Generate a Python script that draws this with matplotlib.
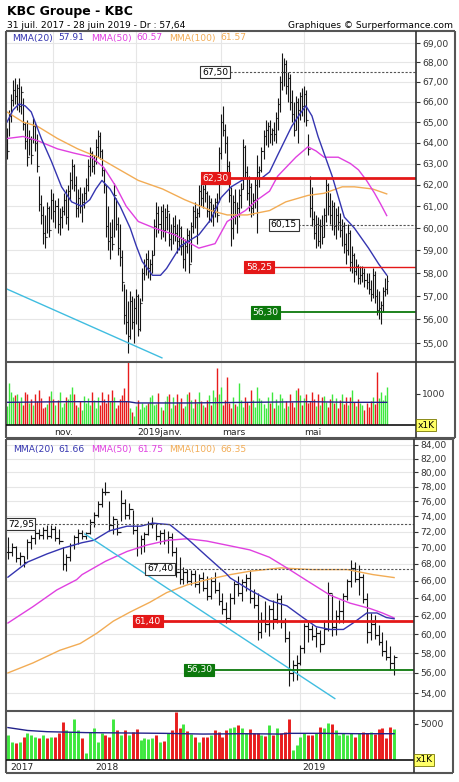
import numpy as np
import pandas as pd
import matplotlib
matplotlib.use('Agg')
import matplotlib.pyplot as plt
from matplotlib.lines import Line2D
from matplotlib.ticker import NullLocator

# ---------------- daily data (1 oct. 2018 -> 28 juin 2019) ----------------
d_high = [64.7, 65.6, 66.4, 67.1, 67.2, 66.9, 67.2, 66.8, 66.2, 65.0,
          65.1, 64.6, 64.3, 65.2, 65.0, 64.4, 62.4, 61.5, 61.0, 60.6,
          61.2, 61.0, 61.8, 61.6, 61.3, 61.4, 60.9, 61.0, 61.6, 61.8,
          62.0, 62.6, 63.2, 63.0, 62.4, 61.8, 61.9, 61.6, 61.9, 62.3,
          63.2, 63.8, 63.6, 63.4, 64.2, 64.6, 64.5, 63.7, 62.8, 62.0,
          61.0, 60.3, 60.4, 62.1, 61.4, 60.5, 60.2, 59.0, 57.5, 57.3,
          56.8, 57.2, 57.0, 56.9, 57.3, 57.1, 56.9, 58.2, 58.6, 58.9,
          59.0, 58.6, 59.0, 60.4, 61.2, 61.0, 61.0, 61.1, 60.9, 61.1,
          60.7, 60.2, 60.5, 60.6, 60.2, 60.4, 60.1, 59.6, 59.5, 60.0,
          59.9, 60.3, 61.0, 61.2, 60.9, 62.0, 62.1, 62.0, 62.3, 61.7,
          61.5, 61.4, 61.1, 61.4, 61.6, 63.8, 65.4, 65.8, 64.9, 64.3,
          63.1, 61.9, 61.5, 61.8, 61.2, 61.8, 62.1, 64.2, 63.9, 62.9,
          62.4, 62.1, 61.6, 62.3, 63.4, 62.9, 63.8, 64.6, 65.1, 65.0,
          65.1, 64.7, 65.0, 65.5, 66.2, 67.3, 68.5, 68.2, 68.1, 67.5,
          67.4, 66.6, 66.0, 66.3, 66.2, 66.5, 66.7, 66.8, 66.6, 64.4,
          62.4, 61.9, 60.8, 60.6, 60.5, 60.4, 60.6, 60.9, 62.3, 62.1,
          61.6, 61.3, 61.2, 60.9, 61.0, 60.7, 60.4, 60.3, 59.8, 60.2,
          59.9, 59.2, 58.9, 58.6, 58.4, 58.3, 58.3, 58.2, 58.0, 58.0,
          57.7, 58.2, 58.1, 57.3, 57.2, 56.8, 57.4, 57.8, 57.9]
d_low = [63.2, 64.3, 65.0, 65.8, 65.9, 65.6, 65.5, 65.4, 64.6, 63.7,
         62.9, 63.4, 63.0, 64.0, 63.6, 62.6, 60.8, 60.2, 59.3, 59.1,
         59.8, 59.6, 60.4, 60.3, 60.0, 59.8, 59.7, 60.0, 60.6, 60.2,
         59.9, 61.3, 61.8, 61.7, 60.5, 60.5, 60.7, 60.3, 60.9, 61.3,
         61.7, 62.4, 62.6, 62.5, 63.0, 63.3, 63.2, 62.4, 61.6, 59.6,
         59.0, 58.6, 59.0, 59.6, 59.9, 58.8, 58.3, 57.2, 55.8, 55.4,
         54.6, 55.2, 55.6, 55.0, 55.8, 55.3, 55.5, 56.8, 57.7, 57.9,
         57.8, 57.7, 58.0, 58.8, 59.6, 59.8, 59.5, 59.6, 59.4, 59.9,
         59.2, 59.0, 59.3, 59.4, 58.9, 59.0, 58.8, 58.2, 58.1, 58.9,
         58.0, 58.5, 59.8, 60.0, 59.3, 60.5, 61.0, 60.9, 61.2, 60.5,
         60.3, 60.3, 60.1, 60.5, 60.3, 61.2, 63.2, 64.3, 63.5, 62.6,
         61.2, 59.2, 59.5, 60.2, 59.8, 60.5, 60.9, 61.8, 62.3, 61.3,
         60.8, 60.5, 60.6, 60.9, 59.8, 61.9, 62.6, 63.2, 63.9, 63.8,
         64.0, 63.9, 64.1, 64.0, 64.6, 65.5, 66.6, 66.8, 66.4, 66.0,
         65.6, 65.0, 64.3, 64.6, 64.0, 65.1, 65.3, 65.0, 64.8, 63.4,
         60.5, 60.1, 59.5, 59.1, 59.2, 59.1, 59.3, 59.6, 60.3, 60.6,
         60.2, 59.9, 59.7, 59.5, 59.9, 59.6, 59.2, 58.9, 58.4, 58.8,
         58.1, 58.0, 57.6, 57.9, 57.5, 57.5, 57.6, 57.4, 57.3, 57.1,
         56.8, 56.9, 56.7, 56.2, 56.0, 55.8, 56.3, 57.0, 57.1]
d_close = [63.6, 65.3, 66.1, 66.6, 66.3, 66.7, 65.8, 66.5, 64.9, 64.1,
           63.3, 64.2, 63.4, 64.8, 64.0, 62.9, 61.1, 60.6, 59.8, 59.6,
           60.9, 59.9, 61.3, 60.8, 61.0, 60.2, 60.5, 60.8, 61.3, 60.5,
           61.7, 62.2, 62.9, 62.0, 60.9, 61.4, 61.0, 61.2, 61.6, 62.0,
           62.9, 63.5, 62.9, 63.1, 63.8, 64.3, 63.6, 62.7, 62.0, 60.1,
           59.4, 59.6, 59.3, 61.5, 60.2, 59.1, 58.7, 57.6, 56.2, 55.9,
           55.3, 56.8, 55.9, 56.5, 57.0, 55.6, 56.7, 58.0, 58.3, 58.6,
           58.2, 58.4, 58.8, 60.1, 60.7, 60.2, 60.8, 59.9, 60.5, 60.8,
           59.5, 59.8, 60.1, 59.8, 59.4, 60.0, 59.2, 58.6, 59.2, 59.7,
           58.4, 60.1, 60.8, 60.5, 60.7, 61.7, 61.4, 61.8, 61.6, 60.8,
           61.2, 60.6, 60.9, 61.2, 60.6, 63.5, 65.0, 64.6, 64.0, 62.9,
           61.5, 60.0, 61.2, 60.6, 60.9, 61.5, 61.8, 63.8, 62.6, 61.6,
           61.9, 60.9, 61.3, 62.0, 62.6, 62.7, 63.6, 64.3, 64.6, 64.8,
           64.4, 64.6, 64.4, 65.2, 65.9, 67.0, 67.5, 67.9, 66.8, 67.2,
           66.0, 65.4, 64.6, 66.0, 65.6, 66.3, 65.8, 66.4, 65.1, 63.7,
           60.9, 60.4, 59.8, 60.2, 59.4, 60.1, 59.6, 60.6, 62.0, 61.0,
           60.6, 61.0, 60.1, 60.6, 60.3, 59.9, 60.1, 59.3, 59.0, 59.8,
           58.5, 58.8, 58.1, 58.3, 57.8, 57.9, 58.0, 57.7, 57.6, 57.3,
           57.1, 57.9, 57.0, 56.4, 56.5, 56.6, 57.2, 57.3, 57.64]
d_volume = [600, 1320, 1050, 880, 950, 1000, 720, 900, 650, 1040,
            980, 700, 820, 640, 980, 760, 1100, 870, 540, 560,
            680, 930, 1080, 830, 620, 780, 1060, 560, 700, 900,
            820, 1000, 1200, 980, 640, 560, 760, 480, 920, 700,
            860, 620, 1060, 780, 540, 900, 640, 1060, 820, 700,
            980, 760, 1100, 880, 540, 640, 820, 960, 1160, 760,
            2000, 540, 420, 300, 600, 780, 520, 700, 560, 640,
            700, 880, 960, 620, 680, 1020, 580, 480, 760, 920,
            1000, 540, 880, 620, 1000, 720, 860, 540, 600, 980,
            1060, 780, 540, 820, 700, 1060, 760, 640, 580, 800,
            940, 620, 1100, 900, 1800, 1000, 1200, 640, 800, 1530,
            700, 540, 900, 680, 600, 1320, 800, 560, 900, 720,
            640, 1100, 800, 560, 1220, 860, 780, 660, 540, 900,
            700, 1060, 540, 820, 640, 980, 860, 540, 760, 600,
            1000, 720, 580, 1110, 1180, 960, 640, 860, 1000, 700,
            760, 1040, 820, 600, 980, 640, 880, 920, 740, 560,
            820, 980, 700, 860, 540, 780, 1000, 680, 880, 620,
            900, 1110, 720, 600, 820, 700, 640, 480, 700, 560,
            760, 900, 680, 1690, 860, 1040, 780, 960, 1220]
d_holidays = ['2018-12-25', '2018-12-26', '2019-01-01', '2019-04-19', '2019-04-22', '2019-05-01']

# moving averages (bar index, value)
d_ma20_idx = [0, 3, 6, 9, 12, 17, 22, 27, 32, 37, 41, 44, 47, 51, 56, 61, 64, 67, 72, 76, 79, 86,
              95, 101, 106, 111, 118, 126, 130, 134, 141, 145, 148, 151, 154, 161, 167, 172, 179, 184, 188]
d_ma20 = [65.0, 65.6, 65.9, 65.8, 65.5, 64.2, 63.1, 61.9, 61.2, 61.0, 61.3, 61.8, 62.2, 61.8, 61.0,
          60.0, 59.2, 58.5, 57.9, 57.9, 58.2, 59.2, 59.7, 60.4, 61.4, 61.9, 62.3, 62.3, 62.6, 63.4,
          64.8, 65.4, 65.8, 65.3, 64.3, 62.4, 60.5, 60.0, 59.1, 58.4, 57.91]
d_ma50_idx = [0, 8, 15, 25, 33, 42, 48, 54, 59, 65, 73, 83, 95, 103, 109, 118, 124, 130, 134,
              143, 149, 153, 157, 164, 170, 174, 178, 182, 185, 188]
d_ma50 = [64.2, 64.3, 64.1, 63.7, 63.5, 63.3, 62.8, 61.9, 61.0, 60.3, 60.0, 59.7, 59.1, 59.3, 60.3,
          60.8, 61.3, 61.7, 62.4, 63.3, 63.8, 63.6, 63.3, 63.3, 63.0, 62.7, 62.2, 61.6, 61.1, 60.57]
d_ma100_idx = [0, 8, 15, 25, 35, 45, 54, 65, 77, 88, 101, 109, 119, 130, 138, 149, 157, 166, 172,
               181, 188]
d_ma100 = [65.5, 65.0, 64.8, 64.2, 63.7, 63.3, 62.8, 62.2, 61.8, 61.3, 60.8, 60.6, 60.6, 60.8, 61.2,
           61.5, 61.6, 61.9, 61.9, 61.8, 61.57]
d_volavg_idx = [0, 30, 60, 64, 90, 120, 150, 170, 188]
d_volavg = [720, 740, 740, 700, 700, 720, 740, 720, 720]

d_levels = [67.50, 62.30, 60.15, 58.25, 56.30]
d_trend_idx = [0, 76.7]
d_trend = [57.3, 54.4]
d_month_labels = ['nov.', '2019janv.', 'mars', 'mai']

# ---------------- weekly data (31 juil. 2017 -> 24 juin 2019) ----------------
w_high = [71.3, 70.6, 70.2, 69.4, 69.0, 71.0, 71.6, 72.4, 72.3, 72.6,
          72.9, 72.8, 72.7, 72.4, 70.0, 69.2, 70.6, 71.6, 72.4, 72.2,
          72.0, 73.6, 74.5, 76.0, 77.8, 78.6, 76.0, 74.0, 73.5, 77.6,
          76.3, 75.8, 74.8, 72.8, 71.6, 72.0, 73.4, 73.9, 73.0, 72.2,
          72.4, 72.1, 71.8, 70.0, 68.8, 67.6, 67.4, 67.2, 67.3, 66.8,
          67.0, 66.5, 66.4, 67.0, 65.8, 64.6, 63.5, 64.5, 66.0, 66.5,
          66.2, 66.8, 67.2, 65.0, 64.5, 62.4, 63.6, 63.2, 63.8, 64.6,
          64.3, 61.8, 60.3, 57.3, 57.8, 58.8, 61.2, 61.3, 61.0, 60.8,
          60.4, 61.5, 65.8, 64.4, 62.6, 63.8, 64.5, 66.2, 68.5, 68.2,
          67.8, 66.8, 64.5, 62.3, 62.1, 61.0, 60.2, 59.4, 58.7, 57.8]
w_low = [68.6, 68.9, 68.2, 67.8, 67.6, 68.6, 69.8, 70.4, 71.0, 71.0,
         71.1, 71.2, 70.8, 70.4, 67.3, 67.1, 68.3, 69.8, 70.4, 71.0,
         71.1, 71.7, 72.6, 73.9, 75.2, 76.9, 72.1, 71.7, 71.6, 73.4,
         73.6, 73.6, 71.7, 69.0, 69.2, 69.5, 71.6, 72.5, 70.9, 70.4,
         70.4, 69.3, 69.0, 66.4, 65.6, 65.6, 65.7, 65.5, 65.2, 64.6,
         64.8, 63.8, 63.9, 64.5, 63.2, 62.2, 61.2, 61.5, 63.3, 64.2,
         63.6, 64.8, 63.4, 62.8, 59.4, 59.6, 60.2, 59.8, 60.6, 61.2,
         60.7, 59.2, 54.7, 55.2, 55.3, 56.8, 58.0, 59.2, 59.4, 58.6,
         58.1, 59.0, 60.3, 59.8, 59.9, 61.2, 61.2, 63.7, 65.2, 65.8,
         64.3, 63.4, 59.1, 59.4, 59.5, 58.9, 57.7, 57.3, 56.3, 55.8]
w_close = [69.5, 70.1, 68.7, 69.0, 68.2, 70.7, 71.2, 71.8, 71.6, 72.2,
           71.5, 72.4, 71.2, 70.8, 68.0, 68.8, 70.3, 71.3, 71.8, 71.5,
           71.8, 73.3, 74.2, 75.6, 77.3, 77.2, 72.8, 73.6, 72.0, 75.8,
           74.2, 74.9, 72.2, 70.0, 71.0, 71.7, 73.0, 73.1, 71.5, 71.8,
           70.9, 71.3, 69.4, 67.0, 66.2, 67.0, 66.0, 66.8, 65.6, 66.3,
           65.1, 64.2, 66.0, 64.9, 63.6, 62.7, 61.8, 64.0, 65.6, 64.6,
           65.8, 66.3, 64.0, 63.2, 60.2, 61.5, 61.1, 62.7, 61.6, 63.9,
           61.3, 59.6, 56.0, 56.8, 57.0, 58.5, 60.9, 60.5, 59.8, 60.1,
           59.0, 60.6, 64.6, 60.8, 62.0, 62.5, 64.2, 65.9, 67.5, 66.2,
           66.4, 63.9, 60.2, 61.1, 59.9, 59.2, 58.2, 57.6, 57.0, 57.64]
w_volume = [3470, 2540, 2310, 2540, 3240, 3700, 3470, 3240, 3010, 3470,
            3010, 3240, 3240, 3700, 5320, 4160, 3930, 5640, 4160, 3010,
            925, 3930, 4390, 2540, 3700, 3470, 3240, 5640, 4160, 3470,
            4160, 3470, 3930, 4260, 2780, 3010, 2870, 3010, 3470, 2540,
            2680, 3700, 4160, 6710, 4390, 5000, 4070, 3610, 3240, 2540,
            3240, 3150, 3470, 4160, 3930, 3240, 4160, 4500, 4630, 4860,
            4390, 3700, 4260, 3700, 3790, 3470, 3330, 4860, 3470, 4390,
            3700, 3930, 5640, 1390, 2080, 3240, 3700, 3470, 3470, 3700,
            4630, 4390, 5180, 5000, 4160, 3470, 3700, 3470, 3700, 3240,
            3700, 3930, 3700, 3930, 3610, 4260, 4390, 3010, 4630, 4260]

w_ma20_idx = [0, 5, 10, 14, 19, 22, 26, 30.5, 34, 37, 41.5, 46, 51, 56, 57, 62, 67, 71.5, 75.6,
              79, 82.6, 86, 88.5, 92, 94.6, 97, 99]
w_ma20 = [66.4, 68.2, 69.2, 69.9, 70.6, 70.9, 72.1, 72.7, 72.7, 73.1, 72.9, 71.1, 68.9, 66.8, 66.3,
          64.9, 63.7, 63.1, 61.8, 60.8, 60.5, 60.5, 61.2, 62.3, 62.3, 61.8, 61.66]
w_ma50_idx = [0, 6.4, 12.5, 17.6, 19, 25, 30.5, 35.6, 41, 46, 51, 57, 62, 67, 71.5, 76.6, 82.6,
              87.7, 92.8, 96, 99]
w_ma50 = [61.2, 63.0, 64.9, 66.1, 66.7, 68.3, 69.5, 70.3, 70.9, 71.1, 70.8, 70.2, 69.7, 68.8, 67.5,
          66.0, 64.3, 63.4, 62.8, 62.3, 61.75]
w_ma100_idx = [0, 6.4, 13.3, 18.5, 22.8, 27, 31.3, 36.4, 40.7, 46, 51, 57, 62, 70, 78, 87, 93.6, 99]
w_ma100 = [56.0, 57.0, 58.3, 59.0, 60.1, 61.4, 62.4, 63.5, 64.6, 65.5, 66.1, 66.7, 67.1, 67.5, 67.3,
           67.3, 66.7, 66.35]
w_volavg_idx = [0, 5, 10, 20, 30, 40, 50, 60, 70, 72, 80, 90, 99]
w_volavg = [4500, 4100, 3930, 3800, 3750, 3700, 3600, 3650, 3600, 3700, 3700, 3650, 3650]

w_levels = [72.95, 67.40, 61.40, 56.30]
w_trend_idx = [19.7, 83.8]
w_trend = [71.7, 53.5]

# ---------------- styling ----------------
W, H = 460, 782
C20, C50, C100 = '#3535b0', '#e040e0', '#f2ac55'
CYAN = '#40bde0'
RED, GREEN = '#e41818', '#0c780c'
VGREEN, VRED = '#3ee83e', '#e81c1c'
FRAME = '#555555'
GRID = '#e6e6e6'
FS = 6.6

fig = plt.figure(figsize=(W / 100, H / 100), dpi=100)
fig.patch.set_facecolor('white')


def fy(y):
    return 1 - y / H


def px_axes(x0, y0, x1, y1):
    ax = fig.add_axes([x0 / W, 1 - y1 / H, (x1 - x0) / W, (y1 - y0) / H])
    for s in ax.spines.values():
        s.set_visible(False)
    return ax


def fline(x0, y0, x1, y1, lw=1.5, color=FRAME):
    fig.add_artist(Line2D([x0 / W, x1 / W], [fy(y0), fy(y1)], transform=fig.transFigure,
                          color=color, lw=lw, solid_capstyle='butt'))


def comma(v):
    return f'{v:.2f}'.replace('.', ',')


def draw_ohlc(ax, high, low, close, tick, lw):
    close = np.asarray(close)
    x = np.arange(len(close))
    opn = np.r_[close[0], close[:-1]]
    ax.vlines(x, low, high, color='#151515', lw=lw)
    ax.hlines(opn, x - tick, x, color='#151515', lw=lw)
    ax.hlines(close, x, x + tick, color='#151515', lw=lw)


def draw_volume(ax, volume, close, lw):
    close = np.asarray(close)
    up = close >= np.r_[close[0], close[:-1]]
    ax.vlines(np.arange(len(volume)), 0, volume, lw=lw,
              colors=np.where(up, VGREEN, VRED))


def price_axis(ax, xlim, ylim, ticks, grid_x):
    ax.set_yscale('log')
    ax.set_xlim(*xlim)
    ax.set_ylim(*ylim)
    ax.yaxis.tick_right()
    ax.set_yticks(ticks)
    ax.set_yticklabels([comma(t) for t in ticks])
    ax.yaxis.set_minor_locator(NullLocator())
    ax.tick_params(axis='y', direction='out', length=3, width=0.8, pad=1.5,
                   labelsize=FS, colors='#333333')
    ax.set_xticks(grid_x)
    ax.tick_params(axis='x', length=0, labelbottom=False)
    ax.grid(True, color=GRID, lw=0.8)
    ax.set_axisbelow(True)


def level_box(ax, x, y, text, fc, tc, ec):
    ax.text(x, y, text, fontsize=FS, color=tc, ha='center', va='center', zorder=6,
            bbox=dict(boxstyle='square,pad=0.18', fc=fc, ec=ec, lw=0.8))


def volume_axis(ax, xlim, vmax, tick, grid_x):
    ax.set_xlim(*xlim)
    ax.set_ylim(0, vmax)
    ax.yaxis.tick_right()
    ax.set_yticks([tick])
    ax.set_yticklabels([str(tick)])
    ax.tick_params(axis='y', direction='out', length=3, width=0.8, pad=1.5,
                   labelsize=FS, colors='#333333')
    ax.set_xticks(grid_x)
    ax.tick_params(axis='x', length=0, labelbottom=False)
    ax.grid(True, axis='x', color=GRID, lw=0.8)
    ax.set_axisbelow(True)


# ---------------- titles ----------------
fig.text(7 / W, fy(12), 'KBC Groupe - KBC', fontsize=9, fontweight='bold', va='center')
fig.text(7 / W, fy(25), '31 juil. 2017 - 28 juin 2019 - Dr : 57,64', fontsize=FS, va='center')
fig.text(453 / W, fy(25), 'Graphiques © Surperformance.com', fontsize=FS, va='center', ha='right')

# ================= daily panel =================
d_dates = pd.bdate_range('2018-10-01', '2019-06-28')
d_dates = d_dates[~d_dates.isin(pd.to_datetime(d_holidays))]
months = pd.Series(d_dates.month)
d_month_pos = [int(months[months == m].index[0]) for m in (11, 1, 3, 5)]
d_xlim = (-0.5, 202.5)

ax1 = px_axes(6, 31, 416, 362)
price_axis(ax1, d_xlim, (54.23, 69.63), np.arange(55, 70), d_month_pos)
draw_ohlc(ax1, d_high, d_low, d_close, 0.5, 0.8)
ax1.plot(d_ma100_idx, d_ma100, color=C100, lw=1)
ax1.plot(d_ma50_idx, d_ma50, color=C50, lw=1)
ax1.plot(d_ma20_idx, d_ma20, color=C20, lw=1)
ax1.plot(d_trend_idx, d_trend, color=CYAN, lw=1)

ax1.hlines(d_levels[0], 110.4, d_xlim[1], color='#555555', lw=0.8, linestyles=(0, (2, 1.5)))
level_box(ax1, 103, d_levels[0], comma(d_levels[0]), 'white', 'black', '#333333')
ax1.hlines(d_levels[1], 110.4, d_xlim[1], color=RED, lw=2)
level_box(ax1, 103.2, d_levels[1], comma(d_levels[1]), RED, 'white', RED)
ax1.hlines(d_levels[2], 144, d_xlim[1], color='#555555', lw=0.8, linestyles=(0, (2, 1.5)))
level_box(ax1, 137.1, d_levels[2], comma(d_levels[2]), 'white', 'black', '#333333')
ax1.hlines(d_levels[3], 131.7, d_xlim[1], color=RED, lw=1)
level_box(ax1, 124.8, d_levels[3], comma(d_levels[3]), RED, 'white', RED)
ax1.hlines(d_levels[4], 134.7, d_xlim[1], color=GREEN, lw=1.3)
level_box(ax1, 128, d_levels[4], comma(d_levels[4]), GREEN, 'white', GREEN)

fig.text(12 / W, fy(38), 'MMA(20)', color=C20, fontsize=FS, va='center')
fig.text(58 / W, fy(38), f'{d_ma20[-1]:.2f}', color=C20, fontsize=FS, va='center')
fig.text(91 / W, fy(38), 'MMA(50)', color=C50, fontsize=FS, va='center')
fig.text(136 / W, fy(38), f'{d_ma50[-1]:.2f}', color=C50, fontsize=FS, va='center')
fig.text(169 / W, fy(38), 'MMA(100)', color=C100, fontsize=FS, va='center')
fig.text(220 / W, fy(38), f'{d_ma100[-1]:.2f}', color=C100, fontsize=FS, va='center')

axv1 = px_axes(6, 362, 416, 425)
volume_axis(axv1, d_xlim, 2000, 1000, d_month_pos)
draw_volume(axv1, d_volume, d_close, 1.0)
axv1.plot(d_volavg_idx, d_volavg, color='#22228a', lw=1)

axd1 = px_axes(6, 425, 416, 438)
axd1.set_xlim(*d_xlim)
axd1.set_ylim(0, 1)
axd1.set_xticks([])
axd1.set_yticks([])
for pos, lab in zip(d_month_pos, d_month_labels):
    axd1.text(pos + 0.3, 0.45, lab, fontsize=FS, va='center', ha='left', color='#222222')

# frame lines, top panel
fline(6, 31, 455, 31)
fline(6, 438, 455, 438)
fline(6, 31, 6, 438)
fline(455, 31, 455, 438)
fline(6, 362, 455, 362)
fline(6, 425, 416, 425, lw=1.2, color='#111111')
fline(416, 31, 416, 438, lw=1.2, color='#333333')
fig.text(426 / W, fy(425), 'x1K', fontsize=FS, ha='center', va='center',
         bbox=dict(boxstyle='square,pad=0.15', fc='#ffff66', ec='#777700', lw=0.6))

# ================= weekly panel =================
w_dates = pd.date_range('2017-07-31', periods=len(w_close), freq='W-MON')
first_2018 = int(np.argmax(w_dates.year == 2018))
first_2019 = int(np.argmax((w_dates.year == 2019) & (w_dates.day <= 7)))
w_year_pos = [0, first_2018, first_2019]
w_xlim = (-0.5, 104.1)

ax2 = px_axes(6, 439, 414, 711)
price_axis(ax2, w_xlim, (52.33, 84.9), np.arange(54, 85, 2), w_year_pos[1:])
draw_ohlc(ax2, w_high, w_low, w_close, 0.8, 0.8)
ax2.plot(w_ma100_idx, w_ma100, color=C100, lw=1)
ax2.plot(w_ma50_idx, w_ma50, color=C50, lw=1)
ax2.plot(w_ma20_idx, w_ma20, color=C20, lw=1)
ax2.plot(w_trend_idx, w_trend, color=CYAN, lw=1)

ax2.hlines(w_levels[0], 6.9, w_xlim[1], color='#555555', lw=0.8, linestyles=(0, (2, 1.5)))
level_box(ax2, 3.3, w_levels[0], comma(w_levels[0]), 'white', 'black', '#333333')
ax2.hlines(w_levels[1], 42.3, w_xlim[1], color='#555555', lw=0.8, linestyles=(0, (2, 1.5)))
level_box(ax2, 39, w_levels[1], comma(w_levels[1]), 'white', 'black', '#333333')
ax2.hlines(w_levels[2], 39.7, w_xlim[1], color=RED, lw=2)
level_box(ax2, 35.9, w_levels[2], comma(w_levels[2]), RED, 'white', RED)
ax2.hlines(w_levels[3], 52.6, w_xlim[1], color=GREEN, lw=1.3)
level_box(ax2, 49, w_levels[3], comma(w_levels[3]), GREEN, 'white', GREEN)

fig.text(13 / W, fy(449), 'MMA(20)', color=C20, fontsize=FS, va='center')
fig.text(58 / W, fy(449), f'{w_ma20[-1]:.2f}', color=C20, fontsize=FS, va='center')
fig.text(91 / W, fy(449), 'MMA(50)', color=C50, fontsize=FS, va='center')
fig.text(137 / W, fy(449), f'{w_ma50[-1]:.2f}', color=C50, fontsize=FS, va='center')
fig.text(169 / W, fy(449), 'MMA(100)', color=C100, fontsize=FS, va='center')
fig.text(220 / W, fy(449), f'{w_ma100[-1]:.2f}', color=C100, fontsize=FS, va='center')

axv2 = px_axes(6, 711, 414, 760)
volume_axis(axv2, w_xlim, 6800, 5000, w_year_pos[1:])
draw_volume(axv2, w_volume, w_close, 2.1)
axv2.plot(w_volavg_idx, w_volavg, color='#22228a', lw=1)

axd2 = px_axes(6, 760, 414, 773)
axd2.set_xlim(*w_xlim)
axd2.set_ylim(0, 1)
axd2.set_xticks([])
axd2.set_yticks([])
for pos, lab in zip(w_year_pos, ['2017', '2018', '2019']):
    axd2.text(pos + 0.5, 0.45, lab, fontsize=FS, va='center', ha='left', color='#222222')

fline(6, 439, 453, 439)
fline(6, 773, 453, 773)
fline(6, 439, 6, 773)
fline(453, 439, 453, 773)
fline(6, 711, 453, 711)
fline(6, 760, 414, 760, lw=1.2, color='#111111')
fline(414, 439, 414, 773, lw=1.2, color='#333333')
fig.text(424 / W, fy(760), 'x1K', fontsize=FS, ha='center', va='center',
         bbox=dict(boxstyle='square,pad=0.15', fc='#ffff66', ec='#777700', lw=0.6))

fig.savefig('out.png', dpi=100, facecolor='white')
